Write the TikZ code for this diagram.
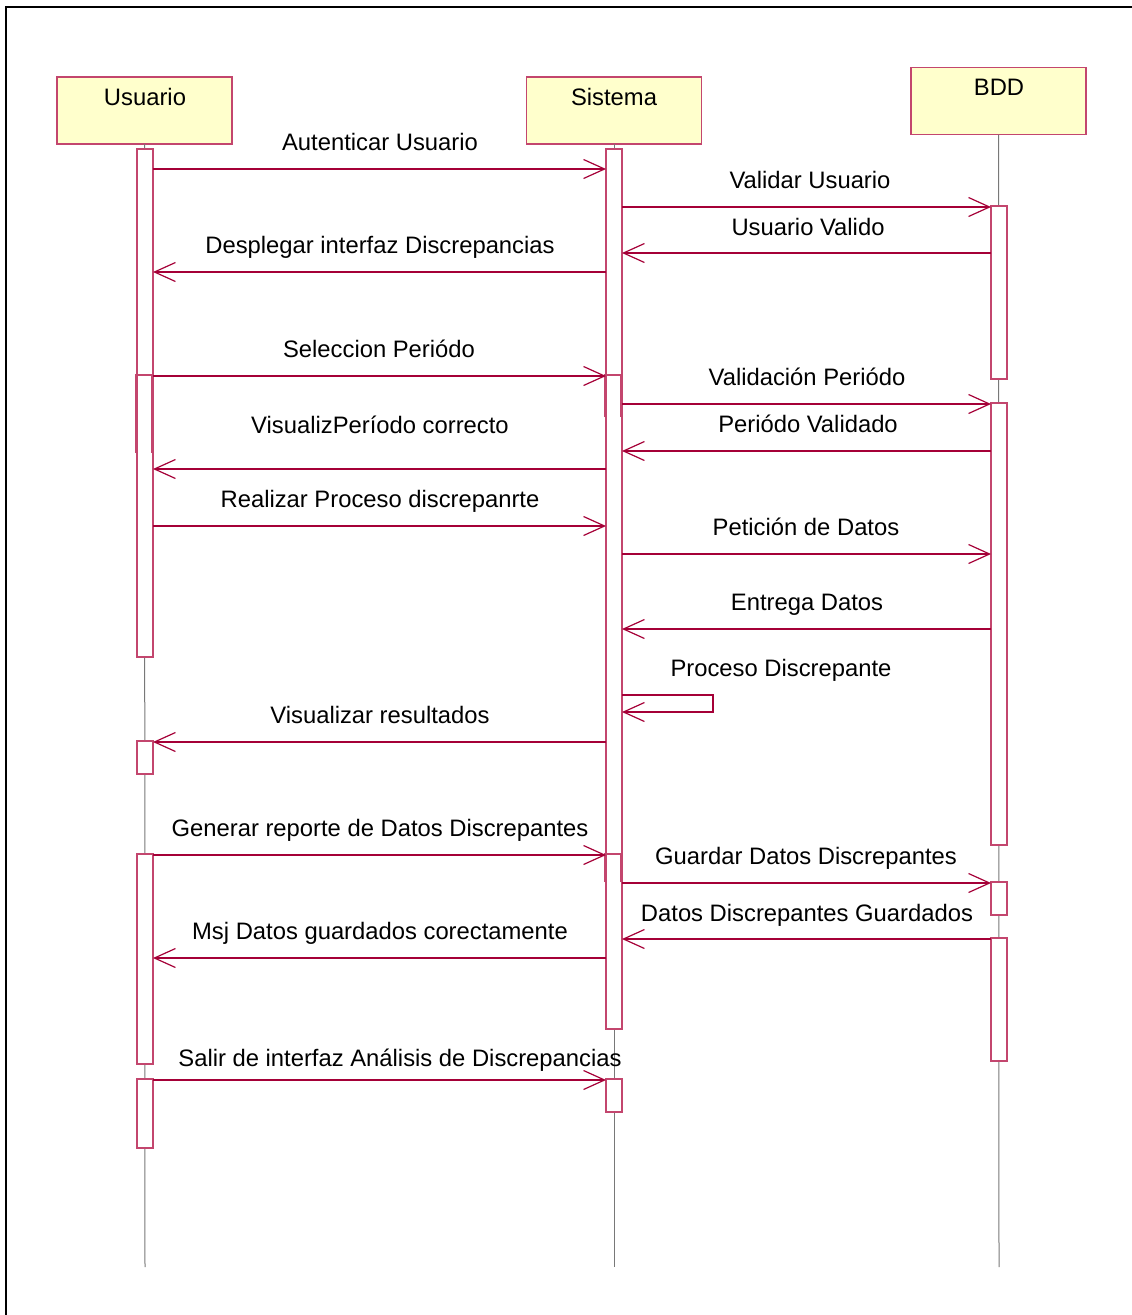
\documentclass[tikz,border=0pt]{standalone}
\usepackage{fontspec}
\setmainfont{Liberation Sans}
\usetikzlibrary{arrows.meta}
\definecolor{msgred}{RGB}{165,0,55}
\definecolor{edgepink}{RGB}{195,70,110}
\definecolor{headfill}{RGB}{255,255,204}
\definecolor{lifegray}{RGB}{120,120,120}
\begin{document}
\begin{tikzpicture}[x=1pt,y=-1pt,
  every node/.style={font=\fontsize{23.8}{28}\selectfont},
  head/.style={draw=edgepink, fill=headfill, line width=1.2pt,
    minimum width=175pt, minimum height=67pt, inner sep=0pt, outer sep=0pt},
  txt/.style={anchor=base, inner sep=0pt, outer sep=0pt},
  bar/.style={draw=edgepink, fill=white, line width=1.2pt, minimum width=16pt,
    inner sep=0pt, outer sep=0pt, anchor=north},
  overbar/.style={bar, draw=none, fill=none},
  baredge/.style={draw=edgepink, line width=1.2pt},
  life/.style={draw=lifegray, line width=1pt},
  msg/.style={draw=msgred, line width=1.2pt,
    -{Straight Barb[length=21pt,width=19pt,line width=1.2pt]}},
  selfmsg/.style={msg},
  frame/.style={draw=black, line width=1.5pt}
]
\useasboundingbox (0,0) rectangle (1132,1315);

% outer frame
\draw[frame] (6,1315) -- (6,7) -- (1132,7);

% lifeline heads
\node[head] (usr) at (144.5,110.5) {};
\node[head] (sys) at (614,110.5) {};
\node[head] (bdd) at (998.5,101) {};
\node[txt] (usrlbl) at (145,105) {Usuario};
\node[txt] (syslbl) at (614,105) {Sistema};
\node[txt] (bddlbl) at (999,95) {BDD};

% lifelines
\coordinate (usrEnd) at (145,1267);
\coordinate (sysEnd) at (614,1267);
\coordinate (bddEnd) at (999,1267);
\draw[life] (usr.south) -- (usrEnd);
\draw[life] (sys.south) -- (sysEnd);
\draw[life] (bdd.south) -- (bddEnd);

% activation bars: Usuario
\node[bar, minimum height=508pt] (uA) at (145,149) {};
\node[overbar, minimum height=78pt] (uA2) at (144,375) {};
\node[bar, minimum height=33pt] (uB) at (145,741) {};
\node[bar, minimum height=210pt] (uC) at (145,854) {};
\node[bar, minimum height=69pt] (uD) at (145,1079) {};
% activation bars: Sistema
\node[bar, minimum height=880pt] (sA) at (614,149) {};
\node[overbar, minimum height=42pt] (sA2) at (613,375) {};
\node[overbar, minimum height=28pt] (sA3) at (613,854) {};
\node[bar, minimum height=33pt] (sB) at (614,1079) {};
% activation bars: BDD
\node[bar, minimum height=173pt] (bA) at (999,206) {};
\node[bar, minimum height=442pt] (bB) at (999,403) {};
\node[bar, minimum height=33pt] (bC) at (999,882) {};
\node[bar, minimum height=123pt] (bD) at (999,938) {};

% nested activations, open at the bottom
\draw[baredge] (uA2.south west) -- (uA2.north west) -- (uA2.north east) -- (uA2.south east);
\draw[baredge] (sA2.south west) -- (sA2.north west) -- (sA2.north east) -- (sA2.south east);
\draw[baredge] (sA3.south west) -- (sA3.north west) -- (sA3.north east) -- (sA3.south east);

% message rows
\coordinate (r1) at (0,169);
\coordinate (r2) at (0,207);
\coordinate (r3) at (0,253);
\coordinate (r4) at (0,272);
\coordinate (r5) at (0,376);
\coordinate (r6) at (0,404);
\coordinate (r7) at (0,451);
\coordinate (r8) at (0,469);
\coordinate (r9) at (0,526);
\coordinate (r10) at (0,554);
\coordinate (r11) at (0,629);
\coordinate (r12a) at (0,695);
\coordinate (r12b) at (0,712);
\coordinate (r13) at (0,742);
\coordinate (r14) at (0,855);
\coordinate (r15) at (0,883);
\coordinate (r16) at (0,939);
\coordinate (r17) at (0,958);
\coordinate (r18) at (0,1080);
\coordinate (selfA) at (713,695);
\coordinate (selfB) at (713,712);

% messages
\draw[msg] (uA.east |- r1) -- (sA.west |- r1);
\draw[msg] (sA.east |- r2) -- (bA.west |- r2);
\draw[msg] (bA.west |- r3) -- (sA.east |- r3);
\draw[msg] (sA.west |- r4) -- (uA.east |- r4);
\draw[msg] (uA.east |- r5) -- (sA.west |- r5);
\draw[msg] (sA.east |- r6) -- (bB.west |- r6);
\draw[msg] (bB.west |- r7) -- (sA.east |- r7);
\draw[msg] (sA.west |- r8) -- (uA.east |- r8);
\draw[msg] (uA.east |- r9) -- (sA.west |- r9);
\draw[msg] (sA.east |- r10) -- (bB.west |- r10);
\draw[msg] (bB.west |- r11) -- (sA.east |- r11);
\draw[selfmsg] (sA.east |- r12a) -- (selfA) -- (selfB) -- (sA.east |- r12b);
\draw[msg] (sA.west |- r13) -- (uB.east |- r13);
\draw[msg] (uC.east |- r14) -- (sA.west |- r14);
\draw[msg] (sA.east |- r15) -- (bC.west |- r15);
\draw[msg] (bD.west |- r16) -- (sA.east |- r16);
\draw[msg] (sA.west |- r17) -- (uC.east |- r17);
\draw[msg] (uD.east |- r18) -- (sB.west |- r18);

% message labels
\node[txt] (l1) at (380,150) {Autenticar Usuario};
\node[txt] (l2) at (810,188) {Validar Usuario};
\node[txt] (l3) at (808,235) {Usuario Valido};
\node[txt] (l4) at (380,253) {Desplegar interfaz Discrepancias};
\node[txt] (l5) at (379,357) {Seleccion Periódo};
\node[txt] (l6) at (807,385) {Validación Periódo};
\node[txt] (l7) at (808,432) {Periódo Validado};
\node[txt] (l8) at (380,433) {VisualizPeríodo correcto};
\node[txt] (l9) at (380,507) {Realizar Proceso discrepanrte};
\node[txt] (l10) at (806,535) {Petición de Datos};
\node[txt] (l11) at (807,610) {Entrega Datos};
\node[txt] (l12) at (781,676) {Proceso Discrepante};
\node[txt] (l13) at (380,723) {Visualizar resultados};
\node[txt] (l14) at (380,836) {Generar reporte de Datos Discrepantes};
\node[txt] (l15) at (806,864) {Guardar Datos Discrepantes};
\node[txt] (l16) at (807,921) {Datos Discrepantes Guardados};
\node[txt] (l17) at (380,939) {Msj Datos guardados corectamente};
\node[txt] (l18) at (400,1066) {Salir de interfaz Análisis de Discrepancias};
\end{tikzpicture}
\end{document}
